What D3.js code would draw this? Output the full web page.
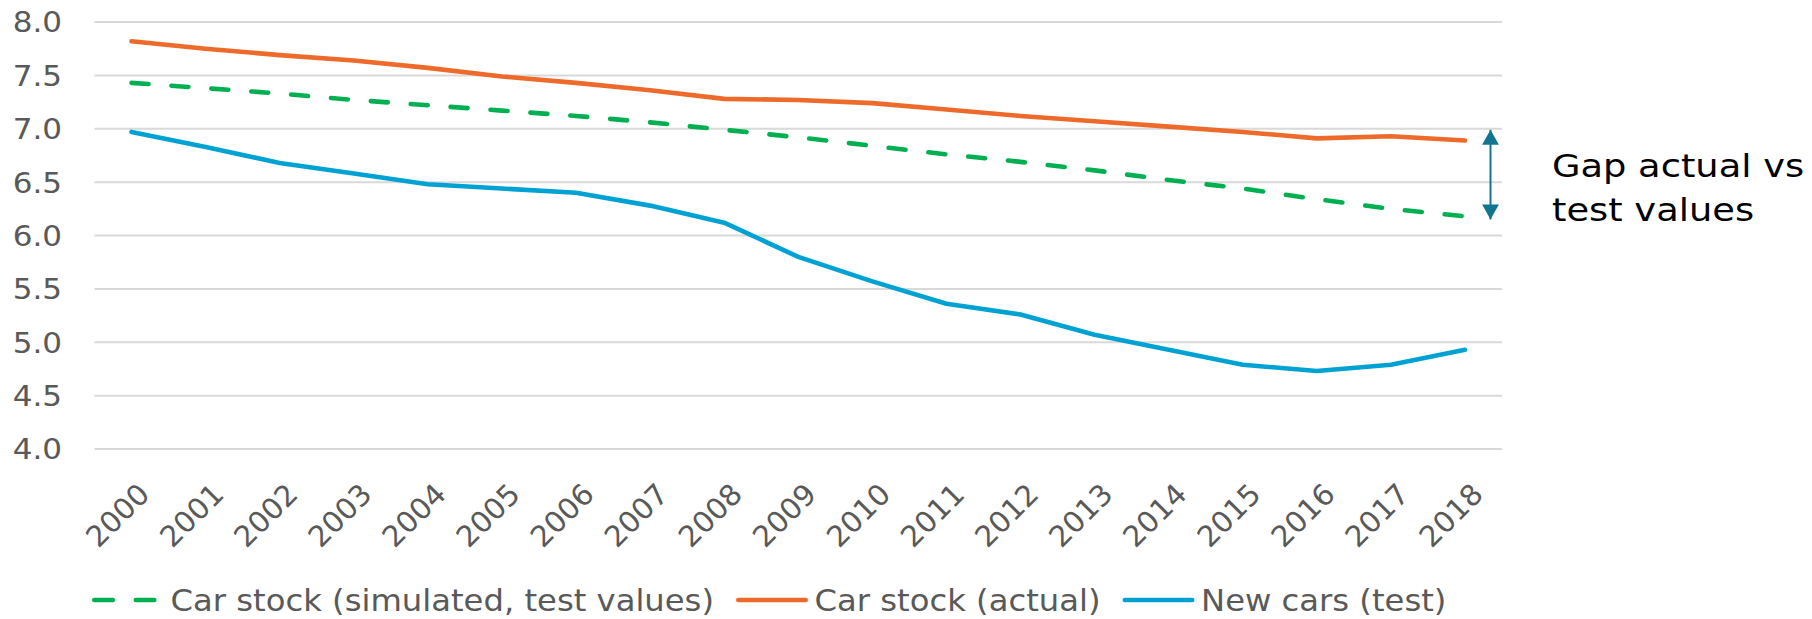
<!DOCTYPE html>
<html>
<head>
<meta charset="utf-8">
<script src="https://cdn.jsdelivr.net/npm/d3@7"></script>
<style>
  body { margin: 0; background: #fff; }
  text { font-family: Verdana, "DejaVu Sans", sans-serif; }
</style>
</head>
<body>
<svg id="chart" width="1812" height="619"></svg>
<script>
// values
var years = ['2000', '2001', '2002', '2003', '2004', '2005', '2006', '2007', '2008', '2009',
  '2010', '2011', '2012', '2013', '2014', '2015', '2016', '2017', '2018'];
var stockSimulated = [7.43, 7.38, 7.33, 7.27, 7.22, 7.17, 7.12, 7.06, 6.99, 6.92,
  6.84, 6.76, 6.69, 6.61, 6.52, 6.44, 6.34, 6.25, 6.18];
var stockActual = [7.82, 7.75, 7.69, 7.64, 7.57, 7.49, 7.43, 7.36, 7.28, 7.27,
  7.24, 7.18, 7.12, 7.07, 7.02, 6.97, 6.91, 6.93, 6.89];
var newCars = [6.97, 6.83, 6.68, 6.58, 6.48, 6.44, 6.40, 6.28, 6.12, 5.80,
  5.57, 5.36, 5.26, 5.07, 4.93, 4.79, 4.73, 4.79, 4.93];
var yTicks = [4.0, 4.5, 5.0, 5.5, 6.0, 6.5, 7.0, 7.5, 8.0];
var gapArrow = {top: 6.99, bottom: 6.15};
var gapLabel = ['Gap actual vs', 'test values'];

var series = [
  {name: 'Car stock (simulated, test values)', values: stockSimulated, color: '#00b050', dash: '17,23'},
  {name: 'Car stock (actual)', values: stockActual, color: '#ed6a2a', dash: null},
  {name: 'New cars (test)', values: newCars, color: '#00a2d3', dash: null}
];

// the reference text runs a bit wider than DejaVu does
function widen(k) {
  return function(sel) {
    sel.each(function() {
      var w = this.getComputedTextLength();
      this.setAttribute('textLength', w * k);
      this.setAttribute('lengthAdjust', 'spacingAndGlyphs');
    });
  };
}

var svg = d3.select('#chart');

var x = d3.scaleBand().domain(years).range([94.5, 1502]);
var y = d3.scaleLinear().domain([4, 8]).range([449, 22]);
var cx = function(d, i) { return x(years[i]) + x.bandwidth() / 2; };

// gridlines
svg.append('g').selectAll('line.grid')
  .data(yTicks)
  .enter().append('line')
  .attr('class', 'grid')
  .attr('x1', x.range()[0])
  .attr('x2', x.range()[1])
  .attr('y1', function(d) { return y(d); })
  .attr('y2', function(d) { return y(d); })
  .attr('stroke', '#d9d9d9')
  .attr('stroke-width', 2);

// y axis labels
svg.append('g').selectAll('text')
  .data(yTicks)
  .enter().append('text')
  .attr('x', 62)
  .attr('y', function(d) { return y(d); })
  .attr('dy', '0.36em')
  .attr('text-anchor', 'end')
  .attr('fill', '#595959')
  .style('font-size', '29px')
  .text(function(d) { return d3.format('.1f')(d); })
  .call(widen(1.07));

// x axis labels, rotated
svg.append('g').selectAll('text')
  .data(years)
  .enter().append('text')
  .attr('transform', function(d) {
    return 'translate(' + (x(d) + x.bandwidth() / 2 + 12.5) + ',488.5) rotate(-45)';
  })
  .attr('text-anchor', 'end')
  .attr('dy', '0.36em')
  .attr('fill', '#595959')
  .style('font-size', '29px')
  .text(function(d) { return d; })
  .call(widen(1.02));

// lines
var line = d3.line()
  .x(cx)
  .y(function(d) { return y(d); });

svg.append('g').selectAll('path')
  .data(series)
  .enter().append('path')
  .attr('d', function(s) { return line(s.values); })
  .attr('fill', 'none')
  .attr('stroke', function(s) { return s.color; })
  .attr('stroke-width', 4.6)
  .attr('stroke-linecap', 'round')
  .attr('stroke-linejoin', 'round')
  .attr('stroke-dasharray', function(s) { return s.dash; });

// gap arrow
var arrowColor = '#12758f';
var ax = 1490.5;
svg.append('defs').append('marker')
  .attr('id', 'tri')
  .attr('viewBox', '0 0 10 10')
  .attr('preserveAspectRatio', 'none')
  .attr('refX', 10)
  .attr('refY', 5)
  .attr('markerWidth', 7.5)
  .attr('markerHeight', 8.4)
  .attr('markerUnits', 'strokeWidth')
  .attr('orient', 'auto-start-reverse')
  .append('path')
  .attr('d', 'M0,0 L10,5 L0,10 Z')
  .attr('fill', arrowColor);

svg.append('line')
  .attr('x1', ax).attr('x2', ax)
  .attr('y1', y(gapArrow.top))
  .attr('y2', y(gapArrow.bottom))
  .attr('stroke', arrowColor)
  .attr('stroke-width', 2)
  .attr('marker-start', 'url(#tri)')
  .attr('marker-end', 'url(#tri)');

svg.append('g').selectAll('text')
  .data(gapLabel)
  .enter().append('text')
  .attr('x', 1552)
  .attr('y', function(d, i) { return 177 + i * 44; })
  .attr('fill', '#000')
  .style('font-size', '32px')
  .text(function(d) { return d; })
  .call(widen(1.15));

// legend
var legend = svg.append('g');
var lx = 92;
var ly = 600;
series.forEach(function(s) {
  legend.append('line')
    .attr('x1', lx + 2.3).attr('x2', lx + 72 - 2.3)
    .attr('y1', ly).attr('y2', ly)
    .attr('stroke', s.color)
    .attr('stroke-width', 4.6)
    .attr('stroke-linecap', 'round')
    .attr('stroke-dasharray', s.dash ? '18.5,23' : null);
  var t = legend.append('text')
    .attr('x', lx + 78.5)
    .attr('y', ly + 11)
    .attr('fill', '#595959')
    .style('font-size', '31px')
    .text(s.name);
  var w = t.node().getComputedTextLength() * 1.04;
  t.attr('textLength', w).attr('lengthAdjust', 'spacingAndGlyphs');
  lx += 78.5 + w + 22;
});
</script>
</body>
</html>
